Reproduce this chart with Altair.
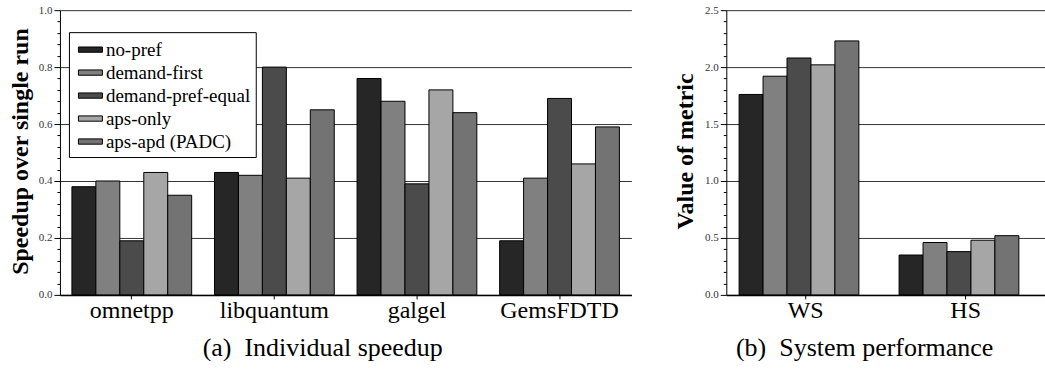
import altair as alt
import pandas as pd

series = ["no-pref", "demand-first", "demand-pref-equal", "aps-only", "aps-apd (PADC)"]
colors = ["#262626", "#808080", "#4b4b4b", "#a6a6a6", "#737373"]

benchmarks = ["omnetpp", "libquantum", "galgel", "GemsFDTD"]
speedup_no_pref = [0.38, 0.43, 0.76, 0.19]
speedup_demand_first = [0.40, 0.42, 0.68, 0.41]
speedup_demand_pref_equal = [0.19, 0.80, 0.39, 0.69]
speedup_aps_only = [0.43, 0.41, 0.72, 0.46]
speedup_aps_apd = [0.35, 0.65, 0.64, 0.59]

metrics = ["WS", "HS"]
metric_no_pref = [1.76, 0.35]
metric_demand_first = [1.92, 0.46]
metric_demand_pref_equal = [2.08, 0.38]
metric_aps_only = [2.02, 0.48]
metric_aps_apd = [2.23, 0.52]

speed_lists = [speedup_no_pref, speedup_demand_first, speedup_demand_pref_equal,
               speedup_aps_only, speedup_aps_apd]
metric_lists = [metric_no_pref, metric_demand_first, metric_demand_pref_equal,
                metric_aps_only, metric_aps_apd]

rows1 = []
for s, vals in zip(series, speed_lists):
    for b, v in zip(benchmarks, vals):
        rows1.append({"cat": b, "series": s, "value": v})
df1 = pd.DataFrame(rows1)

rows2 = []
for s, vals in zip(series, metric_lists):
    for m, v in zip(metrics, vals):
        rows2.append({"cat": m, "series": s, "value": v})
df2 = pd.DataFrame(rows2)

FONT = "Liberation Serif, Times New Roman, Times, serif"

left_ticks = [round(i * 0.04, 2) for i in range(26)]
right_ticks = [round(i * 0.1, 1) for i in range(26)]


def yaxis(title, ticks, mult, title_x):
    major = f"abs(datum.value*{mult} - round(datum.value*{mult})) < 0.001"
    return alt.Axis(
        title=title, values=ticks, format=".1f",
        labelExpr=f"({major}) ? datum.label : ''",
        tickSize={"condition": {"test": major, "value": 6}, "value": 3},
        gridOpacity={"condition": {"test": major, "value": 1}, "value": 0},
        grid=True, gridColor="#333333", gridWidth=1,
        domainColor="black", tickColor="black",
        labelFont=FONT, labelFontSize=11, labelColor="#333333", labelPadding=2,
        titleFont=FONT, titleFontSize=24, titleFontWeight="bold", titleColor="black",
        titleX=title_x, titleY=141, titleAngle=270, titleBaseline="alphabetic",
    )


def xaxis():
    return alt.Axis(
        title=None, labelAngle=0, labelFont=FONT, labelFontSize=24, labelColor="black",
        labelPadding=0, tickSize=4, tickColor="black", domainColor="black",
        domainWidth=1.5, bandPosition=0.5, grid=False,
    )


color_left = alt.Color(
    "series:N",
    scale=alt.Scale(domain=series, range=colors),
    legend=alt.Legend(
        title=None, orient="none", legendX=9, legendY=22,
        symbolType="M-1,-0.22H1V0.22H-1Z", symbolSize=576, symbolOffset=4,
        symbolStrokeColor="black", symbolStrokeWidth=1,
        labelFont=FONT, labelFontSize=19, labelColor="black", labelOffset=3,
        strokeColor="black", fillColor="white", padding=5, rowPadding=0,
        labelLimit=300,
    ),
)
color_right = alt.Color("series:N", scale=alt.Scale(domain=series, range=colors), legend=None)

left = alt.Chart(df1).mark_bar(stroke="black", strokeWidth=1).encode(
    x=alt.X("cat:N", sort=benchmarks,
            scale=alt.Scale(paddingInner=0.16, paddingOuter=0.084), axis=xaxis()),
    xOffset=alt.XOffset("series:N", sort=series,
                        scale=alt.Scale(paddingInner=0, paddingOuter=0)),
    y=alt.Y("value:Q", scale=alt.Scale(domain=[0, 1], nice=False),
            axis=yaxis("Speedup over single run", left_ticks, 5, -32)),
    color=color_left,
).properties(
    width=572, height=285,
    title=alt.TitleParams("(a)\u00a0 Individual speedup", orient="bottom", font=FONT,
                          fontSize=26, fontWeight="normal", color="black", offset=12,
                          dx=-23),
)

right = alt.Chart(df2).mark_bar(stroke="black", strokeWidth=1).encode(
    x=alt.X("cat:N", sort=metrics,
            scale=alt.Scale(paddingInner=0.168, paddingOuter=0.08), axis=xaxis()),
    xOffset=alt.XOffset("series:N", sort=series,
                        scale=alt.Scale(paddingInner=0, paddingOuter=0)),
    y=alt.Y("value:Q", scale=alt.Scale(domain=[0, 2.5], nice=False),
            axis=yaxis("Value of metric", right_ticks, 2, -34)),
    color=color_right,
).properties(
    width=319, height=285,
    title=alt.TitleParams("(b)\u00a0 System performance", orient="bottom", font=FONT,
                          fontSize=26, fontWeight="normal", color="black", offset=12,
                          dx=-21),
)

chart = alt.hconcat(left, right, spacing=95, bounds="flush").properties(
    padding={"left": 8, "top": 4, "right": 0, "bottom": 0}
).configure_view(stroke=None)

chart.save("out.html", embed_options={"renderer": "svg", "actions": False})
